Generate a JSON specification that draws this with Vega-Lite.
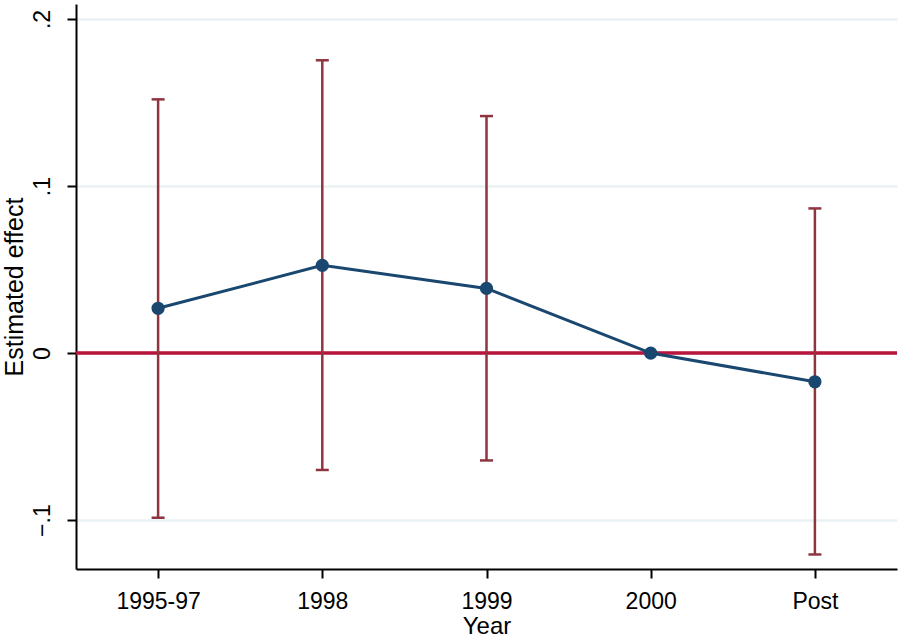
{
  "$schema": "https://vega.github.io/schema/vega-lite/v6.json",
  "width": 821,
  "height": 565,
  "autosize": {"type": "none"},
  "padding": {"left": 76, "top": 4, "right": 16, "bottom": 71},
  "background": "white",
  "config": {
    "view": {"stroke": null},
    "font": "Liberation Sans",
    "axis": {
      "domainColor": "black",
      "domainWidth": 2,
      "tickColor": "black",
      "tickWidth": 2,
      "tickSize": 9,
      "labelFont": "Liberation Sans",
      "titleFont": "Liberation Sans",
      "labelFontSize": 23,
      "titleFontSize": 24,
      "labelColor": "black",
      "titleColor": "black",
      "titleFontWeight": "normal"
    }
  },
  "data": {
    "values": [
      {"period": "1995-97", "est": 0.0268, "lo": -0.0986, "hi": 0.1519},
      {"period": "1998", "est": 0.0525, "lo": -0.0700, "hi": 0.1753},
      {"period": "1999", "est": 0.0387, "lo": -0.0643, "hi": 0.1419},
      {"period": "2000", "est": 0.0, "lo": null, "hi": null},
      {"period": "Post", "est": -0.0172, "lo": -0.1206, "hi": 0.0866}
    ]
  },
  "encoding": {
    "x": {
      "field": "period",
      "type": "ordinal",
      "sort": ["1995-97", "1998", "1999", "2000", "Post"],
      "scale": {"type": "point", "padding": 0.5, "domain": ["1995-97", "1998", "1999", "2000", "Post"]},
      "axis": {"title": "Year", "labelAngle": 0, "labelPadding": 12, "titlePadding": 1, "grid": false}
    }
  },
  "layer": [
    {
      "mark": {"type": "rule", "color": "#b8163c", "strokeWidth": 2.5},
      "encoding": {
        "x": null,
        "y": {
          "datum": 0,
          "type": "quantitative",
          "scale": {"domain": [-0.1293, 0.209], "nice": false, "zero": false},
          "axis": {
            "title": "Estimated effect",
            "titleFontSize": 25,
            "values": [-0.1, 0, 0.1, 0.2],
            "labelExpr": "datum.value == 0 ? '0' : replace(format(datum.value, '.1f'), '0.', '.')",
            "labelAngle": -90,
            "labelAlign": "center",
            "labelBaseline": "bottom",
            "labelPadding": 13,
            "titlePadding": 4,
            "grid": true,
            "gridColor": "#eaf2f3",
            "gridWidth": 2.5
          }
        }
      }
    },
    {
      "transform": [{"filter": "datum.lo != null"}],
      "mark": {"type": "rule", "color": "#8f3540", "strokeWidth": 2.5},
      "encoding": {
        "y": {"field": "lo", "type": "quantitative"},
        "y2": {"field": "hi"}
      }
    },
    {
      "transform": [{"filter": "datum.lo != null"}],
      "mark": {"type": "tick", "color": "#8f3540", "size": 13, "thickness": 2.5, "orient": "horizontal", "opacity": 1},
      "encoding": {"y": {"field": "lo", "type": "quantitative"}}
    },
    {
      "transform": [{"filter": "datum.lo != null"}],
      "mark": {"type": "tick", "color": "#8f3540", "size": 13, "thickness": 2.5, "orient": "horizontal", "opacity": 1},
      "encoding": {"y": {"field": "hi", "type": "quantitative"}}
    },
    {
      "mark": {"type": "line", "color": "#1a476f", "strokeWidth": 3},
      "encoding": {"y": {"field": "est", "type": "quantitative"}}
    },
    {
      "mark": {"type": "point", "filled": true, "color": "#1a476f", "size": 175, "opacity": 1},
      "encoding": {"y": {"field": "est", "type": "quantitative"}}
    }
  ]
}
